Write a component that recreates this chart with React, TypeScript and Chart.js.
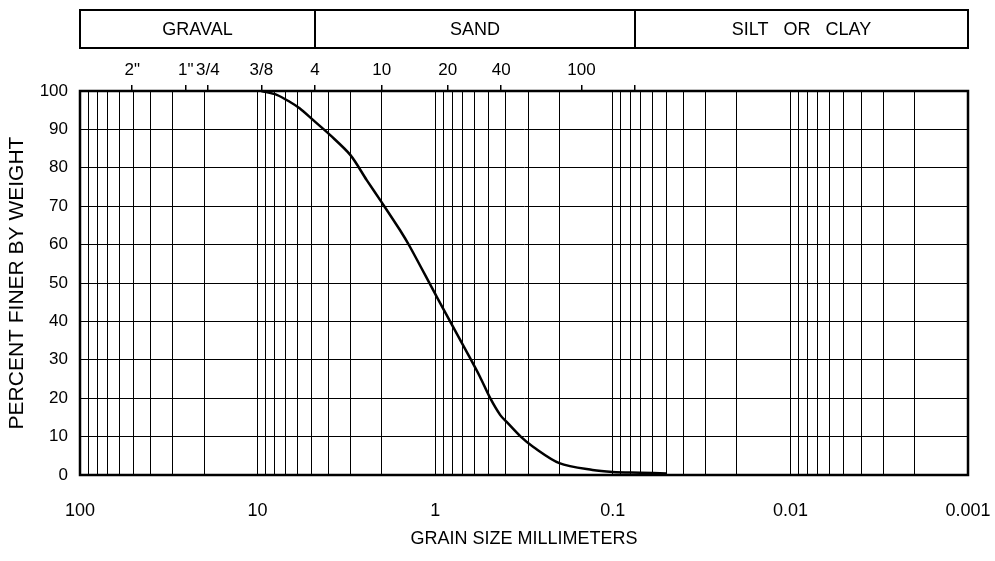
import React, { useEffect, useRef } from 'react';
import { Chart, registerables } from 'chart.js';

Chart.register(...registerables);

// ---- data ----
const grainSizeMm = [9.525, 7.8, 6.6, 5.8, 4.86, 3.9, 3.0, 2.43, 2.0, 1.58, 1.39, 0.98, 0.66, 0.56, 0.49, 0.43, 0.39, 0.33, 0.28, 0.2, 0.13, 0.1, 0.07, 0.05];
const percentFiner = [100, 99, 97.2, 95.5, 92.4, 88.5, 83.3, 76.8, 71, 63.8, 59.5, 46.4, 31.8, 25.6, 20, 15.6, 13.5, 10, 7.3, 3.1, 1.3, 0.8, 0.6, 0.4];

const xDecades = [100, 10, 1, 0.1, 0.01, 0.001];
const xTickLabels = ['100', '10', '1', '0.1', '0.01', '0.001'];

const sieveSizesMm = [50.8, 25.4, 19.05, 9.525, 4.75, 2.0, 0.85, 0.425, 0.15, 0.075];
const sieveLabels = ['2"', '1"', '3/4', '3/8', '4', '10', '20', '40', '100', ''];

const soilBoundariesMm = [4.75, 0.075];
const soilClasses = ['GRAVAL', 'SAND', 'SILT   OR   CLAY'];

const FONT = '"Liberation Sans", Arial, Helvetica, sans-serif';

// log grid positions (1..9 x 10^n) between the axis limits
function logGridValues(min: number, max: number): number[] {
  const out: number[] = [];
  for (let e = Math.floor(Math.log10(min)); e <= Math.ceil(Math.log10(max)); e++) {
    for (let m = 1; m <= 9; m++) {
      const v = Number((m * Math.pow(10, e)).toPrecision(6));
      if (v >= min - 1e-12 && v <= max + 1e-9) out.push(v);
    }
  }
  return out;
}

const headerPlugin = {
  id: 'soilHeader',
  afterDraw(chart: any) {
    const { ctx, chartArea } = chart;
    const xs = chart.scales.x;
    const top = 10;
    const bottom = 48;
    ctx.save();
    ctx.strokeStyle = '#000';
    ctx.lineWidth = 2;
    ctx.strokeRect(chartArea.left, top, chartArea.right - chartArea.left, bottom - top);
    const edges = [chartArea.left, ...soilBoundariesMm.map((v) => xs.getPixelForValue(v)), chartArea.right];
    for (let i = 1; i < edges.length - 1; i++) {
      ctx.beginPath();
      ctx.moveTo(edges[i], top);
      ctx.lineTo(edges[i], bottom);
      ctx.stroke();
    }
    ctx.fillStyle = '#000';
    ctx.font = `18px ${FONT}`;
    ctx.textAlign = 'center';
    ctx.textBaseline = 'middle';
    for (let i = 0; i < soilClasses.length; i++) {
      ctx.fillText(soilClasses[i], (edges[i] + edges[i + 1]) / 2, (top + bottom) / 2 + 1);
    }
    // plot frame
    ctx.lineWidth = 2.5;
    ctx.strokeRect(chartArea.left, chartArea.top, chartArea.right - chartArea.left, chartArea.bottom - chartArea.top);
    ctx.restore();
  },
};

export default function App() {
  const canvasRef = useRef<HTMLCanvasElement | null>(null);

  useEffect(() => {
    if (!canvasRef.current) return;
    const gridValues = logGridValues(0.001, 100);
    const isDecade = (v: number) => Math.abs(Math.log10(v) - Math.round(Math.log10(v))) < 1e-9;

    const chart = new Chart(canvasRef.current, {
      type: 'scatter',
      data: {
        datasets: [
          {
            label: 'Percent finer',
            data: grainSizeMm.map((d, i) => ({ x: d, y: percentFiner[i] })),
            showLine: true,
            borderColor: '#000',
            backgroundColor: '#000',
            borderWidth: 2.5,
            pointRadius: 0,
            tension: 0.3,
            xAxisID: 'x',
            yAxisID: 'y',
          },
        ],
      },
      options: {
        animation: false,
        responsive: false,
        devicePixelRatio: 1,
        layout: { padding: { left: 0, right: 27, top: 48, bottom: 0 } },
        plugins: {
          legend: { display: false },
          tooltip: { enabled: false },
        },
        scales: {
          x: {
            type: 'logarithmic',
            position: 'bottom',
            reverse: true,
            min: 0.001,
            max: 100,
            afterBuildTicks: (scale: any) => {
              scale.ticks = gridValues.map((v) => ({ value: v, major: isDecade(v) }));
            },
            afterFit: (scale: any) => {
              scale.height = 86;
            },
            grid: {
              color: '#000',
              lineWidth: 1,
              drawTicks: false,
            },
            border: { display: true, color: '#000', width: 2 },
            ticks: {
              autoSkip: false,
              maxRotation: 0,
              minRotation: 0,
              padding: 25,
              color: '#000',
              font: { family: FONT, size: 18 },
              callback: (value: any) => {
                const v = Number(value);
                if (!isDecade(v)) return '';
                const idx = xDecades.findIndex((d) => Math.abs(Math.log10(d) - Math.log10(v)) < 1e-9);
                return idx >= 0 ? xTickLabels[idx] : '';
              },
            },
            title: {
              display: true,
              text: 'GRAIN SIZE MILLIMETERS',
              color: '#000',
              font: { family: FONT, size: 18 },
              padding: { top: 0, bottom: 11 },
            },
          },
          x2: {
            type: 'logarithmic',
            position: 'top',
            reverse: true,
            min: 0.001,
            max: 100,
            afterBuildTicks: (scale: any) => {
              scale.ticks = sieveSizesMm.map((v) => ({ value: v }));
            },
            afterFit: (scale: any) => {
              scale.height = 43;
            },
            grid: {
              display: true,
              drawOnChartArea: false,
              drawTicks: true,
              tickLength: 6,
              color: '#000',
              lineWidth: 1.5,
            },
            border: { display: true, color: '#000', width: 2 },
            ticks: {
              autoSkip: false,
              maxRotation: 0,
              minRotation: 0,
              padding: 4,
              color: '#000',
              font: { family: FONT, size: 17 },
              callback: (_value: any, index: number) => sieveLabels[index] ?? '',
            },
          },
          y: {
            type: 'linear',
            position: 'left',
            min: 0,
            max: 100,
            afterFit: (scale: any) => {
              scale.width = 80;
            },
            grid: {
              color: '#000',
              lineWidth: 1,
              drawTicks: false,
            },
            border: { display: true, color: '#000', width: 2 },
            ticks: {
              stepSize: 10,
              padding: 12,
              color: '#000',
              font: { family: FONT, size: 17 },
            },
            title: {
              display: true,
              text: 'PERCENT FINER BY WEIGHT',
              color: '#000',
              font: { family: FONT, size: 21 },
              padding: { top: 5, bottom: 0 },
            },
          },
        },
      },
      plugins: [headerPlugin],
    } as any);

    return () => {
      chart.destroy();
    };
  }, []);

  return (
    <div style={{ position: 'absolute', left: 0, top: 0, width: 995, height: 561, background: '#fff' }}>
      <canvas ref={canvasRef} width={995} height={561} style={{ display: 'block', width: 995, height: 561 }} />
    </div>
  );
}
